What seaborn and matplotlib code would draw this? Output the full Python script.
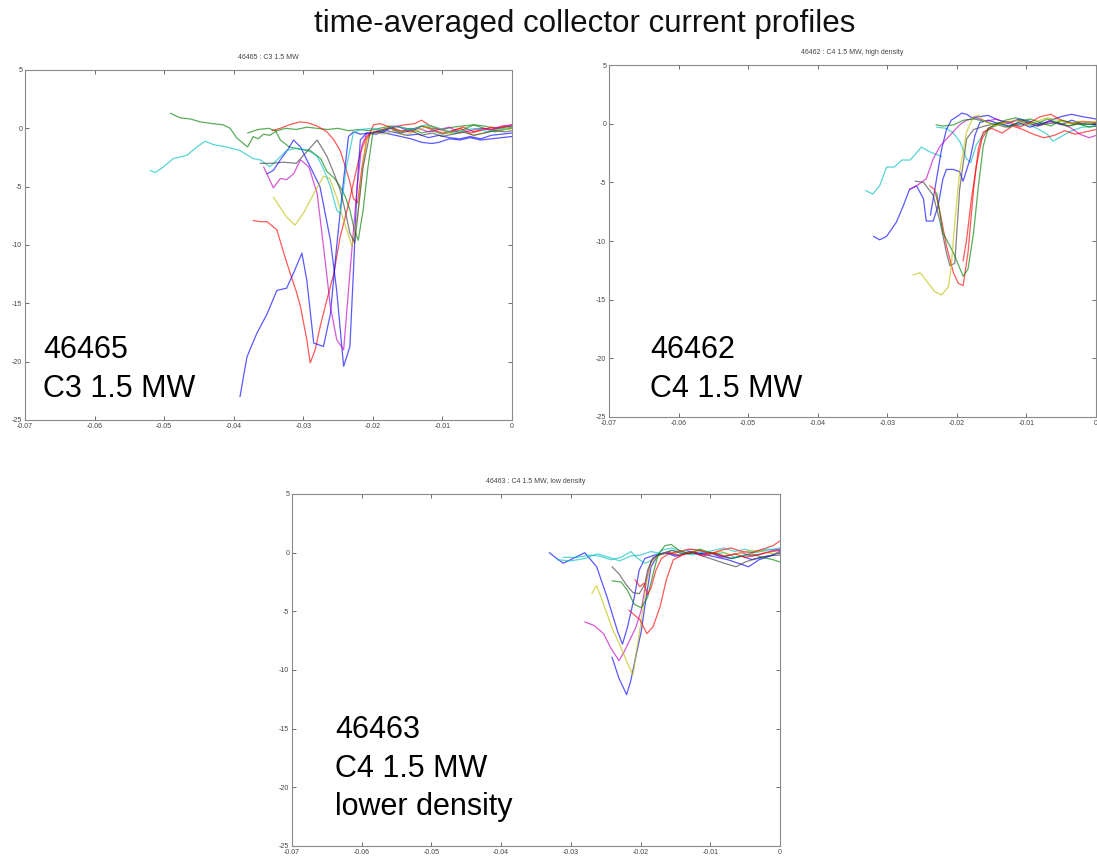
import pandas as pd
import seaborn as sb
import matplotlib
matplotlib.use("Agg")
import matplotlib.pyplot as plt

# ---- shot 46465 : C3 1.5 MW ----
P1_GREEN_A_X = [-0.0491, -0.0477, -0.0462, -0.0448, -0.0430, -0.0415, -0.0405, -0.0396, -0.0388, -0.0380, -0.0372, -0.0365, -0.0357, -0.0348, -0.0338, -0.0325, -0.0310, -0.0295, -0.0280, -0.0265, -0.0250, -0.0235, -0.0220, -0.0205, -0.0190, -0.0175, -0.0160, -0.0145, -0.0130, -0.0115, -0.0100, -0.0085, -0.0070, -0.0055, -0.0040, -0.0025, -0.0010, 0.0]
P1_GREEN_A_Y = [1.3, 0.9, 0.8, 0.55, 0.4, 0.3, 0.0, -0.8, -1.2, -1.6, -0.7, -0.9, -0.5, -0.6, -0.2, 0.0, -0.1, 0.1, 0.0, -0.1, 0.0, -0.2, -0.1, -0.2, 0.0, 0.2, 0.1, -0.1, 0.2, 0.0, -0.1, 0.1, 0.2, 0.3, 0.2, 0.0, 0.1, 0.2]
P1_GREEN_B_X = [-0.0380, -0.0365, -0.0350, -0.0340, -0.0333, -0.0320, -0.0305, -0.0290, -0.0275, -0.0266, -0.0255, -0.0247, -0.0240, -0.0233, -0.0227, -0.0221, -0.0214, -0.0207, -0.0200, -0.0190, -0.0175, -0.0160, -0.0145, -0.0130, -0.0115, -0.0100, -0.0085, -0.0070, -0.0055, -0.0040, -0.0025, -0.0010, 0.0]
P1_GREEN_B_Y = [-0.4, -0.1, 0.0, -0.2, -1.0, -1.6, -1.8, -1.9, -2.6, -3.7, -4.3, -5.0, -5.8, -7.0, -8.6, -9.6, -7.0, -3.3, -0.4, -0.2, 0.1, -0.3, 0.0, -0.4, -0.2, -0.5, -0.3, -0.1, 0.3, 0.0, -0.3, -0.1, 0.0]
P1_RED_A_X = [-0.0372, -0.0362, -0.0352, -0.0338, -0.0328, -0.0319, -0.0310, -0.0304, -0.0295, -0.0290, -0.0283, -0.0275, -0.0266, -0.0256, -0.0247, -0.0237, -0.0228, -0.0218, -0.0209, -0.0199, -0.0185, -0.0170, -0.0155, -0.0140, -0.0130, -0.0120, -0.0105, -0.0090, -0.0075, -0.0060, -0.0045, -0.0030, -0.0015, 0.0]
P1_RED_A_Y = [-7.9, -8.0, -8.0, -8.7, -10.7, -12.4, -14.0, -15.3, -18.1, -20.1, -19.0, -16.8, -14.7, -12.4, -9.3, -7.0, -4.7, -2.1, -0.7, -0.3, -0.1, 0.1, 0.3, 0.4, 0.7, 0.3, -0.1, -0.3, 0.0, -0.4, -0.2, 0.1, 0.0, 0.3]
P1_RED_B_X = [-0.0345, -0.0333, -0.0320, -0.0305, -0.0295, -0.0280, -0.0266, -0.0256, -0.0247, -0.0240, -0.0233, -0.0228, -0.0222, -0.0216, -0.0209, -0.0199, -0.0190, -0.0175, -0.0160, -0.0145, -0.0130, -0.0115, -0.0100, -0.0085, -0.0070, -0.0055, -0.0040, -0.0025, -0.0010, 0.0]
P1_RED_B_Y = [-0.2, 0.0, 0.3, 0.55, 0.5, 0.2, -0.3, -1.0, -1.9, -3.2, -4.6, -6.0, -6.4, -3.5, -1.0, 0.3, 0.4, 0.1, -0.2, -0.3, 0.2, -0.1, -0.4, -0.2, 0.1, -0.3, 0.0, -0.1, 0.2, 0.1]
P1_BLUE_A_X = [-0.0391, -0.0381, -0.0367, -0.0352, -0.0338, -0.0324, -0.0314, -0.0302, -0.0295, -0.0285, -0.0271, -0.0261, -0.0252, -0.0242, -0.0235, -0.0228, -0.0218, -0.0205, -0.0190, -0.0175, -0.0160, -0.0145, -0.0130, -0.0115, -0.0105, -0.0090, -0.0075, -0.0060, -0.0045, -0.0030, -0.0015, 0.0]
P1_BLUE_A_Y = [-23.0, -19.6, -17.6, -15.9, -13.9, -13.7, -12.4, -10.7, -13.0, -18.4, -18.7, -15.9, -10.1, -4.4, -0.7, -0.3, -0.5, -0.4, -0.3, -0.5, -0.7, -0.9, -1.2, -1.3, -1.2, -0.9, -1.0, -0.8, -1.0, -0.9, -0.8, -0.7]
P1_BLUE_B_X = [-0.0352, -0.0343, -0.0333, -0.0322, -0.0314, -0.0304, -0.0290, -0.0276, -0.0261, -0.0252, -0.0242, -0.0233, -0.0228, -0.0223, -0.0218, -0.0209, -0.0195, -0.0180, -0.0165, -0.0150, -0.0135, -0.0120, -0.0105, -0.0090, -0.0075, -0.0060, -0.0045, -0.0030, -0.0015, 0.0]
P1_BLUE_B_Y = [-3.9, -3.6, -2.7, -1.8, -1.0, -1.6, -3.3, -5.0, -9.6, -13.9, -20.4, -18.7, -12.4, -5.3, -1.0, -0.4, -0.5, -0.2, -0.4, -0.6, -0.5, -0.8, -0.6, -0.8, -0.9, -0.7, -0.9, -0.6, -0.5, -0.4]
P1_MAGENTA_X = [-0.0357, -0.0343, -0.0333, -0.0324, -0.0314, -0.0304, -0.0292, -0.0280, -0.0271, -0.0261, -0.0252, -0.0242, -0.0233, -0.0223, -0.0216, -0.0209, -0.0195, -0.0180, -0.0165, -0.0150, -0.0135, -0.0120, -0.0105, -0.0090, -0.0075, -0.0060, -0.0045, -0.0030, -0.0015, 0.0]
P1_MAGENTA_Y = [-3.3, -5.1, -4.3, -4.4, -3.9, -2.7, -3.3, -5.6, -10.1, -15.3, -18.1, -19.0, -12.4, -5.3, -1.5, -0.5, -0.3, -0.1, 0.2, -0.2, 0.0, -0.3, -0.1, 0.1, -0.4, -0.2, 0.0, -0.1, 0.2, 0.3]
P1_YELLOW_X = [-0.0343, -0.0324, -0.0312, -0.0300, -0.0285, -0.0271, -0.0262, -0.0252, -0.0242, -0.0230, -0.0222, -0.0216, -0.0209, -0.0200, -0.0185, -0.0170, -0.0155, -0.0140, -0.0125, -0.0115, -0.0100, -0.0085, -0.0070, -0.0055, -0.0040, -0.0025, -0.0010, 0.0]
P1_YELLOW_Y = [-5.9, -7.6, -8.3, -7.3, -5.6, -4.1, -4.3, -5.9, -7.9, -10.1, -7.5, -3.9, -1.0, -0.3, -0.5, -0.2, -0.6, -0.3, 0.1, 0.2, -0.1, -0.5, -0.3, -0.6, -0.4, -0.2, -0.1, 0.0]
P1_CYAN_X = [-0.0520, -0.0513, -0.0501, -0.0487, -0.0467, -0.0453, -0.0441, -0.0429, -0.0410, -0.0391, -0.0372, -0.0362, -0.0348, -0.0336, -0.0324, -0.0310, -0.0300, -0.0290, -0.0280, -0.0270, -0.0261, -0.0252, -0.0247, -0.0238, -0.0228, -0.0218, -0.0200, -0.0185, -0.0170, -0.0155, -0.0140, -0.0125, -0.0110, -0.0095, -0.0080, -0.0065, -0.0050, -0.0035, -0.0020, 0.0]
P1_CYAN_Y = [-3.6, -3.8, -3.3, -2.6, -2.3, -1.6, -1.1, -1.4, -1.6, -1.9, -2.6, -2.7, -3.3, -2.6, -1.9, -1.7, -1.8, -2.0, -2.4, -3.6, -5.0, -7.0, -7.3, -3.3, -0.4, -0.1, 0.0, -0.2, 0.2, 0.0, -0.1, 0.3, 0.1, -0.2, -0.4, -0.1, 0.0, -0.3, -0.1, 0.1]
P1_BLACK_X = [-0.0362, -0.0345, -0.0329, -0.0310, -0.0295, -0.0280, -0.0266, -0.0255, -0.0247, -0.0240, -0.0233, -0.0226, -0.0214, -0.0204, -0.0190, -0.0175, -0.0160, -0.0145, -0.0130, -0.0115, -0.0100, -0.0085, -0.0070, -0.0055, -0.0040, -0.0025, -0.0010, 0.0]
P1_BLACK_Y = [-3.0, -3.0, -2.9, -3.0, -2.0, -1.0, -2.4, -4.0, -5.3, -7.0, -9.0, -9.8, -3.3, -0.4, -0.3, 0.0, -0.4, -0.2, -0.6, -0.4, -0.7, -0.5, -0.3, -0.6, -0.4, -0.2, -0.3, -0.2]

# ---- shot 46462 : C4 1.5 MW, high density ----
P2_CYAN_A_X = [-0.0331, -0.0321, -0.0311, -0.0301, -0.0290, -0.0279, -0.0267, -0.0251, -0.0239, -0.0222]
P2_CYAN_A_Y = [-5.7, -6.0, -5.3, -3.7, -3.7, -3.1, -3.1, -2.0, -2.4, -2.8]
P2_CYAN_B_X = [-0.0229, -0.0215, -0.0205, -0.0195, -0.0186, -0.0180, -0.0172, -0.0160, -0.0145, -0.0130, -0.0115, -0.0100, -0.0085, -0.0070, -0.0062, -0.0050, -0.0035, -0.0020, 0.0]
P2_CYAN_B_Y = [-0.3, -0.4, -0.8, -1.6, -3.0, -3.3, -1.8, -0.7, -0.2, 0.1, -0.2, 0.0, -0.4, -0.9, -1.5, -1.1, -0.6, -0.3, -0.2]
P2_BLUE_A_X = [-0.0320, -0.0311, -0.0301, -0.0287, -0.0277, -0.0268, -0.0258, -0.0248, -0.0244, -0.0234, -0.0227, -0.0220, -0.0215, -0.0205, -0.0196, -0.0191, -0.0181, -0.0174, -0.0167, -0.0155, -0.0140, -0.0125, -0.0110, -0.0095, -0.0080, -0.0065, -0.0050, -0.0035, -0.0020, 0.0]
P2_BLUE_A_Y = [-9.6, -9.9, -9.6, -8.4, -7.0, -5.6, -5.3, -6.4, -8.3, -8.3, -7.0, -4.7, -3.9, -3.9, -4.1, -4.9, -3.0, -1.0, 0.1, 0.3, 0.0, -0.2, 0.1, -0.3, 0.0, 0.2, -0.1, 0.3, 0.0, -0.1]
P2_BLUE_B_X = [-0.0238, -0.0230, -0.0222, -0.0215, -0.0208, -0.0200, -0.0193, -0.0186, -0.0178, -0.0168, -0.0155, -0.0140, -0.0125, -0.0110, -0.0095, -0.0080, -0.0065, -0.0050, -0.0035, -0.0020, 0.0]
P2_BLUE_B_Y = [-7.8, -5.0, -2.2, -0.5, 0.3, 0.6, 0.9, 0.8, 0.5, 0.6, 0.7, 0.3, 0.1, 0.4, 0.2, -0.1, 0.3, 0.6, 0.8, 0.6, 0.4]
P2_MAGENTA_X = [-0.0268, -0.0258, -0.0244, -0.0234, -0.0224, -0.0210, -0.0196, -0.0186, -0.0172, -0.0158, -0.0143, -0.0128, -0.0113, -0.0098, -0.0083, -0.0068, -0.0053, -0.0038, -0.0023, -0.0010, 0.0]
P2_MAGENTA_Y = [-5.6, -5.3, -4.7, -3.0, -1.9, -1.0, -0.1, 0.3, 0.5, 0.2, 0.4, 0.0, 0.3, 0.1, -0.2, 0.2, 0.0, -0.3, -0.9, -1.2, -1.0]
P2_BLACK_X = [-0.0260, -0.0248, -0.0234, -0.0224, -0.0215, -0.0210, -0.0203, -0.0196, -0.0186, -0.0176, -0.0160, -0.0145, -0.0130, -0.0115, -0.0100, -0.0085, -0.0070, -0.0055, -0.0040, -0.0025, -0.0010, 0.0]
P2_BLACK_Y = [-4.9, -5.0, -6.1, -8.4, -11.0, -12.1, -11.9, -5.6, -1.3, -0.5, -0.2, 0.0, -0.3, -0.1, 0.1, -0.2, 0.0, 0.1, -0.2, 0.0, 0.1, 0.0]
P2_RED_A_X = [-0.0239, -0.0232, -0.0224, -0.0215, -0.0205, -0.0198, -0.0191, -0.0184, -0.0176, -0.0169, -0.0162, -0.0150, -0.0135, -0.0120, -0.0105, -0.0090, -0.0075, -0.0060, -0.0045, -0.0030, -0.0015, 0.0]
P2_RED_A_Y = [-5.3, -5.6, -7.6, -10.4, -12.7, -13.6, -13.8, -11.0, -5.6, -2.1, -0.7, -0.4, -0.8, -0.2, -0.5, -0.9, -1.2, -1.0, -0.6, -0.9, -0.7, -0.5]
P2_RED_B_X = [-0.0191, -0.0186, -0.0179, -0.0172, -0.0164, -0.0155, -0.0140, -0.0125, -0.0110, -0.0095, -0.0080, -0.0065, -0.0050, -0.0035, -0.0020, 0.0]
P2_RED_B_Y = [-11.7, -9.9, -6.4, -3.6, -1.3, -0.4, 0.0, 0.2, -0.3, 0.1, 0.6, 0.8, 0.3, 0.0, 0.2, 0.1]
P2_GREEN_A_X = [-0.0229, -0.0220, -0.0205, -0.0191, -0.0184, -0.0176, -0.0169, -0.0162, -0.0155, -0.0140, -0.0125, -0.0110, -0.0095, -0.0080, -0.0065, -0.0050, -0.0035, -0.0020, 0.0]
P2_GREEN_A_Y = [-5.9, -9.3, -11.0, -13.0, -12.4, -9.3, -5.3, -1.9, -0.4, 0.1, -0.3, 0.2, 0.4, 0.1, -0.2, 0.3, 0.1, -0.1, 0.0]
P2_GREEN_B_X = [-0.0230, -0.0220, -0.0205, -0.0190, -0.0175, -0.0160, -0.0145, -0.0130, -0.0115, -0.0100, -0.0085, -0.0070, -0.0055, -0.0040, -0.0025, -0.0010, 0.0]
P2_GREEN_B_Y = [-0.1, -0.2, -0.1, 0.3, 0.4, 0.2, -0.1, 0.3, 0.5, 0.2, 0.0, 0.4, 0.1, -0.2, 0.0, -0.3, -0.2]
P2_YELLOW_X = [-0.0263, -0.0253, -0.0241, -0.0232, -0.0222, -0.0212, -0.0208, -0.0203, -0.0196, -0.0186, -0.0176, -0.0169, -0.0160, -0.0145, -0.0130, -0.0115, -0.0100, -0.0085, -0.0070, -0.0055, -0.0040, -0.0025, -0.0010, 0.0]
P2_YELLOW_Y = [-12.9, -12.7, -13.6, -14.3, -14.6, -13.9, -12.1, -8.4, -4.1, -0.7, 0.6, 0.7, 0.2, -0.2, 0.1, 0.3, -0.1, 0.2, 0.5, 0.3, 0.0, 0.2, 0.1, 0.2]

# ---- shot 46463 : C4 1.5 MW, low density ----
P3_BLUE_A_X = [-0.0331, -0.0320, -0.0311, -0.0297, -0.0280, -0.0263, -0.0248, -0.0233, -0.0226, -0.0219, -0.0209, -0.0202, -0.0194, -0.0180, -0.0165, -0.0150, -0.0135, -0.0120, -0.0105, -0.0090, -0.0075, -0.0060, -0.0045, -0.0030, -0.0015, 0.0]
P3_BLUE_A_Y = [0.0, -0.5, -0.9, -0.5, 0.0, -1.2, -3.8, -6.7, -7.8, -6.4, -3.8, -1.5, -0.5, -0.2, 0.0, -0.3, -0.1, 0.0, -0.2, -0.4, -0.6, -0.9, -1.2, -0.6, -0.3, 0.1]
P3_BLUE_B_X = [-0.0241, -0.0231, -0.0220, -0.0214, -0.0207, -0.0199, -0.0192, -0.0185, -0.0175, -0.0160, -0.0145, -0.0130, -0.0115, -0.0100, -0.0085, -0.0070, -0.0055, -0.0040, -0.0025, -0.0010, 0.0]
P3_BLUE_B_Y = [-8.9, -10.7, -12.1, -10.9, -8.9, -6.7, -3.8, -1.2, -0.2, 0.0, -0.2, 0.1, -0.1, 0.0, -0.3, -0.5, -0.3, -0.6, -0.4, -0.2, 0.0]
P3_CYAN_A_X = [-0.0311, -0.0292, -0.0272, -0.0258, -0.0243, -0.0228, -0.0214, -0.0204, -0.0194, -0.0185, -0.0170, -0.0155, -0.0140, -0.0125, -0.0110, -0.0095, -0.0080, -0.0065, -0.0050, -0.0035, -0.0020, 0.0]
P3_CYAN_A_Y = [-0.4, -0.4, -0.2, -0.3, -0.6, -0.4, 0.1, -0.5, -0.9, -0.7, 0.2, 0.4, 0.1, 0.3, 0.0, 0.2, 0.4, 0.1, 0.3, 0.0, 0.2, 0.4]
P3_CYAN_B_X = [-0.0320, -0.0300, -0.0280, -0.0262, -0.0245, -0.0230, -0.0215, -0.0200, -0.0185, -0.0170, -0.0155, -0.0140, -0.0125, -0.0110, -0.0095, -0.0080, -0.0065, -0.0050, -0.0035, -0.0020, 0.0]
P3_CYAN_B_Y = [-0.6, -0.7, -0.5, -0.1, -0.4, -0.7, -0.3, -0.2, 0.1, -0.1, 0.2, 0.0, -0.2, 0.1, -0.1, 0.0, -0.4, -0.2, 0.1, 0.3, 0.2]
P3_MAGENTA_X = [-0.0280, -0.0267, -0.0253, -0.0243, -0.0231, -0.0224, -0.0216, -0.0207, -0.0199, -0.0192, -0.0185, -0.0175, -0.0160, -0.0145, -0.0130, -0.0115, -0.0100, -0.0085, -0.0070, -0.0055, -0.0040, -0.0025, -0.0010, 0.0]
P3_MAGENTA_Y = [-5.9, -6.2, -6.9, -8.1, -9.2, -8.5, -7.5, -6.4, -4.9, -2.4, -0.7, -0.2, 0.0, -0.3, 0.1, -0.2, 0.0, -0.4, -0.2, 0.0, -0.3, -0.1, 0.2, 0.3]
P3_YELLOW_X = [-0.0270, -0.0263, -0.0253, -0.0241, -0.0228, -0.0219, -0.0211, -0.0207, -0.0199, -0.0192, -0.0185, -0.0175, -0.0160, -0.0145, -0.0130, -0.0115, -0.0100, -0.0085, -0.0070, -0.0055, -0.0040, -0.0025, -0.0010, 0.0]
P3_YELLOW_Y = [-3.5, -2.8, -4.4, -6.4, -8.1, -9.4, -10.4, -8.9, -5.8, -2.7, -0.9, -0.3, 0.1, -0.2, 0.0, 0.2, -0.1, 0.1, -0.2, 0.0, 0.2, 0.1, -0.1, 0.0]
P3_BLACK_X = [-0.0241, -0.0231, -0.0221, -0.0211, -0.0202, -0.0194, -0.0190, -0.0182, -0.0170, -0.0155, -0.0140, -0.0125, -0.0110, -0.0095, -0.0080, -0.0063, -0.0050, -0.0035, -0.0020, 0.0]
P3_BLACK_Y = [-1.2, -1.8, -2.7, -3.4, -3.5, -2.7, -1.5, -0.4, -0.1, 0.2, -0.1, 0.0, -0.3, -0.6, -0.9, -1.2, -0.8, -0.5, -0.3, -0.2]
P3_GREEN_X = [-0.0241, -0.0228, -0.0219, -0.0209, -0.0199, -0.0190, -0.0182, -0.0175, -0.0165, -0.0156, -0.0145, -0.0130, -0.0115, -0.0100, -0.0085, -0.0070, -0.0055, -0.0040, -0.0025, -0.0010, 0.0]
P3_GREEN_Y = [-2.4, -2.5, -3.2, -4.4, -4.7, -3.8, -1.8, -0.2, 0.6, 0.7, 0.2, -0.1, 0.3, 0.0, -0.2, -0.5, -0.3, -0.1, -0.4, -0.6, -0.8]
P3_RED_A_X = [-0.0208, -0.0201, -0.0195, -0.0190, -0.0185, -0.0178, -0.0170, -0.0160, -0.0145, -0.0130, -0.0115, -0.0100, -0.0085, -0.0070, -0.0055, -0.0040, -0.0025, -0.0010, 0.0]
P3_RED_A_Y = [-2.3, -2.9, -2.6, -3.6, -3.0, -1.5, -0.5, -0.1, 0.1, 0.3, 0.2, -0.1, 0.2, 0.4, 0.1, 0.0, 0.3, 0.6, 1.0]
P3_RED_B_X = [-0.0217, -0.0209, -0.0201, -0.0191, -0.0182, -0.0172, -0.0163, -0.0153, -0.0140, -0.0125, -0.0110, -0.0095, -0.0080, -0.0065, -0.0050, -0.0035, -0.0020, 0.0]
P3_RED_B_Y = [-4.9, -5.3, -5.7, -6.9, -6.3, -4.6, -2.3, -0.6, -0.2, 0.1, -0.3, 0.0, -0.3, -0.1, -0.4, -0.2, 0.0, 0.2]

X_TICKS = [-0.07, -0.06, -0.05, -0.04, -0.03, -0.02, -0.01, 0.0]
X_TICK_LABELS = ["-0.07", "-0.06", "-0.05", "-0.04", "-0.03", "-0.02", "-0.01", "0"]
Y_TICKS = [-25, -20, -15, -10, -5, 0, 5]
Y_TICK_LABELS = ["-25", "-20", "-15", "-10", "-5", "0", "5"]

# old matlab colour order
COLORS = {"b": "#0000ff", "g": "#008000", "r": "#ff0000", "c": "#00bfbf",
          "m": "#bf00bf", "y": "#bfbf00", "k": "#404040"}


def make_frame(traces):
    parts = []
    for name, col, xs, ys in traces:
        parts.append(pd.DataFrame({"x": xs, "y": ys, "trace": name, "col": col}))
    return pd.concat(parts, ignore_index=True)


p1 = make_frame([
    ("gA", "g", P1_GREEN_A_X, P1_GREEN_A_Y), ("gB", "g", P1_GREEN_B_X, P1_GREEN_B_Y),
    ("rA", "r", P1_RED_A_X, P1_RED_A_Y), ("rB", "r", P1_RED_B_X, P1_RED_B_Y),
    ("bA", "b", P1_BLUE_A_X, P1_BLUE_A_Y), ("bB", "b", P1_BLUE_B_X, P1_BLUE_B_Y),
    ("m", "m", P1_MAGENTA_X, P1_MAGENTA_Y), ("y", "y", P1_YELLOW_X, P1_YELLOW_Y),
    ("c", "c", P1_CYAN_X, P1_CYAN_Y), ("k", "k", P1_BLACK_X, P1_BLACK_Y),
])
p2 = make_frame([
    ("cA", "c", P2_CYAN_A_X, P2_CYAN_A_Y), ("cB", "c", P2_CYAN_B_X, P2_CYAN_B_Y),
    ("bA", "b", P2_BLUE_A_X, P2_BLUE_A_Y), ("bB", "b", P2_BLUE_B_X, P2_BLUE_B_Y),
    ("m", "m", P2_MAGENTA_X, P2_MAGENTA_Y), ("k", "k", P2_BLACK_X, P2_BLACK_Y),
    ("rA", "r", P2_RED_A_X, P2_RED_A_Y), ("rB", "r", P2_RED_B_X, P2_RED_B_Y),
    ("gA", "g", P2_GREEN_A_X, P2_GREEN_A_Y), ("gB", "g", P2_GREEN_B_X, P2_GREEN_B_Y),
    ("y", "y", P2_YELLOW_X, P2_YELLOW_Y),
])
p3 = make_frame([
    ("bA", "b", P3_BLUE_A_X, P3_BLUE_A_Y), ("bB", "b", P3_BLUE_B_X, P3_BLUE_B_Y),
    ("cA", "c", P3_CYAN_A_X, P3_CYAN_A_Y), ("cB", "c", P3_CYAN_B_X, P3_CYAN_B_Y),
    ("m", "m", P3_MAGENTA_X, P3_MAGENTA_Y), ("y", "y", P3_YELLOW_X, P3_YELLOW_Y),
    ("k", "k", P3_BLACK_X, P3_BLACK_Y), ("g", "g", P3_GREEN_X, P3_GREEN_Y),
    ("rA", "r", P3_RED_A_X, P3_RED_A_Y), ("rB", "r", P3_RED_B_X, P3_RED_B_Y),
])

sb.set_style("white")
plt.rcParams["font.family"] = ["Liberation Sans", "DejaVu Sans"]
plt.rcParams["axes.unicode_minus"] = False

W, H = 1097, 856
fig = plt.figure(figsize=(W / 100, H / 100), dpi=100)


def px_axes(left, top, right, bottom):
    return fig.add_axes([left / W, 1 - bottom / H, (right - left) / W, (bottom - top) / H])


def draw_panel(ax, df, title):
    pal = {t: COLORS[c] for t, c in zip(df["trace"], df["col"])}
    sb.lineplot(data=df, x="x", y="y", hue="trace", palette=pal, sort=False,
                estimator=None, legend=False, linewidth=0.9, alpha=0.65, ax=ax)
    ax.set_xlim(-0.07, 0)
    ax.set_ylim(-25, 5)
    ax.set_xticks(X_TICKS)
    ax.set_xticklabels(X_TICK_LABELS)
    ax.set_yticks(Y_TICKS)
    ax.set_yticklabels(Y_TICK_LABELS)
    ax.set_xlabel("")
    ax.set_ylabel("")
    ax.tick_params(direction="in", length=3, width=0.6, color="#555555",
                   labelsize=5, labelcolor="#444444", pad=2,
                   top=True, right=True, bottom=True, left=True)
    for s in ax.spines.values():
        s.set_color("#8a8a8a")
        s.set_linewidth(0.8)
    ax.set_title(title, fontsize=5, color="#444444", pad=8)


ax1 = px_axes(25, 70, 512, 420)
draw_panel(ax1, p1, "46465 : C3 1.5 MW")
ax2 = px_axes(609, 65, 1096, 417)
draw_panel(ax2, p2, "46462 : C4 1.5 MW, high density")
ax3 = px_axes(292, 494, 780, 846)
draw_panel(ax3, p3, "46463 : C4 1.5 MW, low density")

fig.text(585 / W, 1 - 24 / H, "time-averaged collector current profiles",
         ha="center", va="center", fontsize=22.5, color="#111111")

big = dict(fontsize=22, color="black", va="baseline", ha="left")
fig.text(43 / W, 1 - 358 / H, "46465", **big)
fig.text(43 / W, 1 - 397 / H, "C3 1.5 MW", **big)
fig.text(650 / W, 1 - 358 / H, "46462", **big)
fig.text(650 / W, 1 - 397 / H, "C4 1.5 MW", **big)
fig.text(335 / W, 1 - 738 / H, "46463", **big)
fig.text(335 / W, 1 - 777 / H, "C4 1.5 MW", **big)
fig.text(335 / W, 1 - 815 / H, "lower density", **big)

fig.savefig("out.png", dpi=100)
